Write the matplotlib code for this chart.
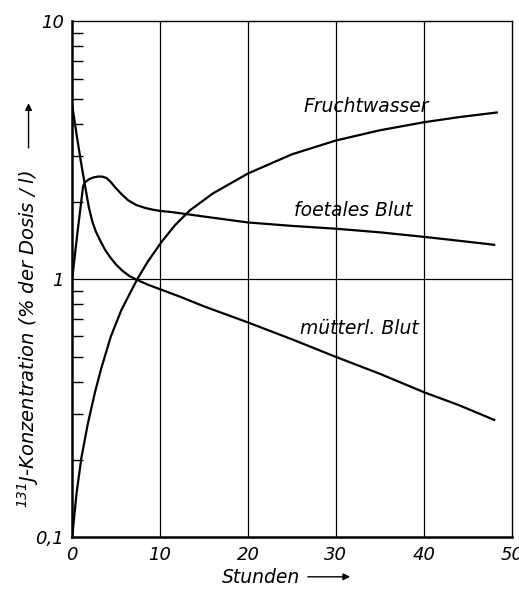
import numpy as np
import matplotlib.pyplot as plt
from matplotlib.patches import FancyArrowPatch
from matplotlib.ticker import FixedLocator, LogLocator, NullFormatter

# values (hours, % of dose per litre)
t_mutter = [0, 0.5, 1.0, 1.5, 1.9, 2.3, 2.7, 3.2, 3.75, 4.3, 5.0, 5.7, 6.5, 7.5, 8.7, 10, 12.5, 15, 20, 25, 30, 35, 40, 44, 48]
c_mutter = [4.75, 3.65, 2.85, 2.27, 1.9, 1.67, 1.53, 1.41, 1.3, 1.22, 1.14, 1.08, 1.03, 0.99, 0.95, 0.915, 0.85, 0.785, 0.68, 0.585, 0.50, 0.43, 0.365, 0.325, 0.285]

t_foetal = [0, 0.6, 1.25, 1.5, 1.9, 2.4, 2.9, 3.4, 3.9, 4.4, 4.9, 5.6, 6.4, 7.3, 8.3, 9.2, 10, 11.4, 15, 20, 25, 30, 35, 40, 44, 48]
c_foetal = [1.0, 1.51, 2.3, 2.38, 2.44, 2.48, 2.5, 2.5, 2.47, 2.38, 2.27, 2.14, 2.02, 1.94, 1.89, 1.86, 1.84, 1.82, 1.75, 1.66, 1.61, 1.57, 1.52, 1.46, 1.41, 1.36]

t_frucht = [0, 0.5, 1.06, 1.8, 2.6, 3.3, 4.4, 5.6, 7.4, 8.6, 10.2, 11.7, 13.4, 16, 20, 25, 30, 35, 40, 44, 48.3]
c_frucht = [0.1, 0.148, 0.204, 0.277, 0.365, 0.45, 0.6, 0.76, 1.0, 1.17, 1.40, 1.62, 1.85, 2.15, 2.57, 3.05, 3.45, 3.78, 4.06, 4.25, 4.43]

xticks = [0, 10, 20, 30, 40, 50]
xticklabels = ['0', '10', '20', '30', '40', '50']
yticks = [0.1, 1, 10]
yticklabels = ['0,1', '1', '10']

plt.rcParams['font.family'] = ['DejaVu Sans']
plt.rcParams['font.style'] = 'italic'

fig = plt.figure(figsize=(5.19, 5.91), dpi=100)
ax = fig.add_axes([0.139, 0.091, 0.847, 0.873])

ax.set_yscale('log')
ax.set_xlim(0, 50)
ax.set_ylim(0.1, 10)

# grid
for gx in [10, 20, 30, 40]:
    ax.axvline(gx, color='black', lw=0.9)
ax.axhline(1, color='black', lw=0.9)

ax.plot(t_mutter, c_mutter, color='black', lw=1.6)
ax.plot(t_foetal, c_foetal, color='black', lw=1.6)
ax.plot(t_frucht, c_frucht, color='black', lw=1.6)

ax.text(33.5, 4.28, 'Fruchtwasser', ha='center', va='bottom', fontsize=13.5)
ax.text(32, 1.69, 'foetales Blut', ha='center', va='bottom', fontsize=13.5)
ax.text(32.7, 0.59, 'mütterl. Blut', ha='center', va='bottom', fontsize=13.5)

ax.xaxis.set_major_locator(FixedLocator(xticks))
ax.set_xticklabels(xticklabels, fontsize=13)
ax.tick_params(axis='x', length=0, pad=6)

ax.yaxis.set_major_locator(FixedLocator(yticks))
ax.set_yticklabels(yticklabels, fontsize=13)
ax.yaxis.set_minor_locator(LogLocator(base=10, subs=np.arange(2, 10)))
ax.yaxis.set_minor_formatter(NullFormatter())
ax.tick_params(axis='y', which='major', length=0, pad=6)
ax.tick_params(axis='y', which='minor', direction='in', length=8, width=1)

for s in ax.spines.values():
    s.set_linewidth(1.0)
ax.spines['left'].set_linewidth(1.8)
ax.spines['bottom'].set_linewidth(1.8)

# axis labels with arrows
fig.text(0.055, 0.14, '$^{131}$J-Konzentration (% der Dosis / l)', rotation=90,
         ha='center', va='bottom', fontsize=14)
fig.patches.append(FancyArrowPatch(
    (0.055, 0.745), (0.055, 0.83), transform=fig.transFigure,
    arrowstyle='-|>', mutation_scale=10, color='black', lw=1.0))

fig.text(0.502, 0.022, 'Stunden', ha='center', va='center', fontsize=13.5)
fig.patches.append(FancyArrowPatch(
    (0.588, 0.024), (0.68, 0.024), transform=fig.transFigure,
    arrowstyle='-|>', mutation_scale=10, color='black', lw=1.0))

fig.savefig('out.png', dpi=100)
